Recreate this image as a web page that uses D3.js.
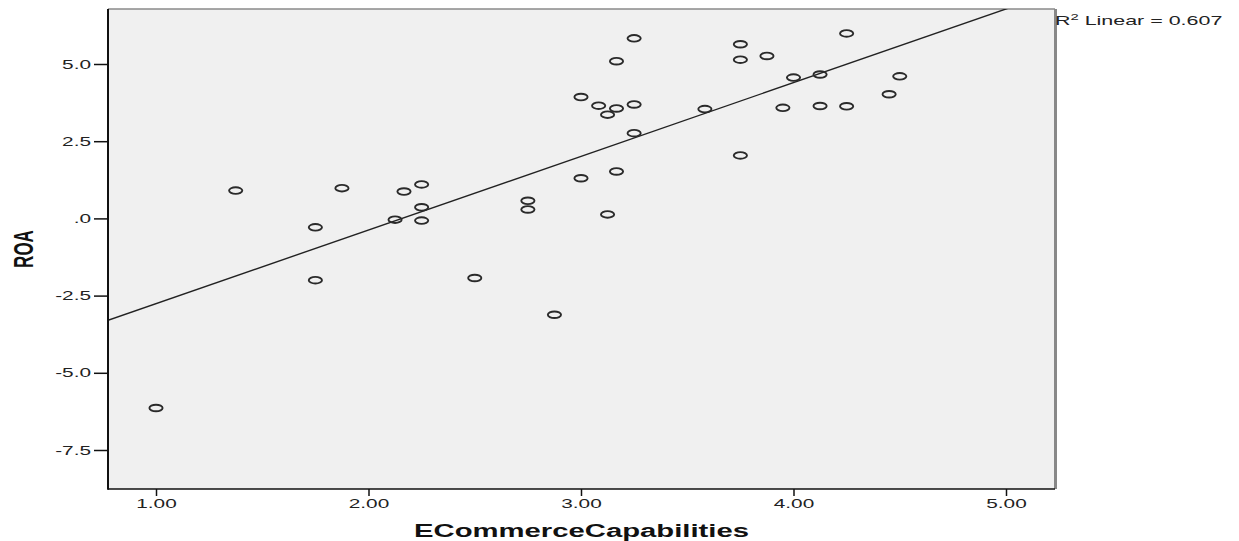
<!DOCTYPE html>
<html><head><meta charset="utf-8">
<script src="https://cdn.jsdelivr.net/npm/d3@7"></script>
<style>body{margin:0;background:#fff}svg{display:block;font-family:"Liberation Sans",Arial,sans-serif}</style>
</head><body><svg id="c" width="1239" height="541"></svg>
<script>
// ---- data ----
const ecommerce = [1.0, 1.375, 1.75, 1.75, 1.875, 2.125, 2.167, 2.25, 2.25, 2.25, 2.5, 2.75, 2.75, 2.875,
  3.0, 3.0, 3.083, 3.125, 3.125, 3.167, 3.167, 3.167, 3.25, 3.25, 3.25, 3.583, 3.75, 3.75, 3.75,
  3.875, 3.95, 4.0, 4.125, 4.125, 4.25, 4.25, 4.45, 4.5];
const roa = [-6.14, 0.90, -0.29, -2.00, 0.98, -0.04, 0.87, 1.10, 0.36, -0.07, -1.93, 0.57, 0.29, -3.12,
  3.93, 1.30, 3.65, 3.36, 0.13, 5.09, 3.56, 1.52, 5.83, 3.69, 2.76, 3.54, 5.64, 5.14, 2.04,
  5.26, 3.58, 4.56, 4.66, 3.64, 5.99, 3.63, 4.02, 4.60];
const xTicks = [1, 2, 3, 4, 5];
const yTicks = [5, 2.5, 0, -2.5, -5, -7.5];
const xTitle = "ECommerceCapabilities";
const yTitle = "ROA";
const fitR2 = "0.607";

// ---- layout ----
const L = 108, R = 1055, T = 9, B = 489;
const STRETCH = 1.6;
const svg = d3.select("#c");
const x = d3.scaleLinear().domain([0.7741, 5.2306]).range([L, R]);
const y = d3.scaleLinear().domain([-8.763, 6.781]).range([B, T]);

svg.append("rect").attr("x", L).attr("y", T).attr("width", R - L).attr("height", B - T).attr("fill", "#f0f0f0");
svg.append("clipPath").attr("id", "clip").append("rect")
  .attr("x", L).attr("y", T).attr("width", R - L).attr("height", B - T);

// frame: top and right gray
svg.append("line").attr("x1", L).attr("x2", R).attr("y1", T).attr("y2", T).attr("stroke", "#8a8a8a").attr("stroke-width", 1.5);
svg.append("line").attr("x1", R + 0.5).attr("x2", R + 0.5).attr("y1", T).attr("y2", B).attr("stroke", "#888").attr("stroke-width", 3);

// regression line computed from data
const mx = d3.mean(ecommerce), my = d3.mean(roa);
let sxy = 0, sxx = 0;
ecommerce.forEach((v, i) => { sxy += (v - mx) * (roa[i] - my); sxx += (v - mx) * (v - mx); });
const slope = sxy / sxx, icpt = my - slope * mx;
const xd = x.domain();
svg.append("line").attr("clip-path", "url(#clip)")
  .attr("x1", x(xd[0])).attr("y1", y(icpt + slope * xd[0]))
  .attr("x2", x(xd[1])).attr("y2", y(icpt + slope * xd[1]))
  .attr("stroke", "#222").attr("stroke-width", 1.4);

// points
svg.append("g").selectAll("ellipse").data(ecommerce).join("ellipse")
  .attr("cx", d => x(d)).attr("cy", (d, i) => y(roa[i]))
  .attr("rx", 6.6).attr("ry", 3.3)
  .attr("fill", "none").attr("stroke", "#2a2a2a").attr("stroke-width", 1.9);

const fmtY = v => { let s = Math.abs(v).toFixed(1); if (s.startsWith("0")) s = s.slice(1); return (v < 0 ? "-" : "") + s; };
const fmtX = v => v.toFixed(2);

const stretchText = sel => sel.each(function () {
  const w = this.getComputedTextLength();
  this.setAttribute("textLength", w * STRETCH);
  this.setAttribute("lengthAdjust", "spacingAndGlyphs");
});

// axes
const gy = svg.append("g").attr("transform", `translate(${L},0)`)
  .call(d3.axisLeft(y).tickValues(yTicks).tickFormat(fmtY).tickSize(14).tickPadding(3));
gy.select(".domain").remove();
gy.selectAll("line").attr("stroke", "#111").attr("stroke-width", 1.5);
gy.selectAll("text").attr("font-size", 13).attr("fill", "#222").attr("font-family", "Liberation Sans, Arial, sans-serif").call(stretchText);

const gx = svg.append("g").attr("transform", `translate(0,${B})`)
  .call(d3.axisBottom(x).tickValues(xTicks).tickFormat(fmtX).tickSize(7).tickPadding(3));
gx.select(".domain").remove();
gx.selectAll("line").attr("stroke", "#111").attr("stroke-width", 1.5);
gx.selectAll("text").attr("font-size", 13).attr("fill", "#222").attr("font-family", "Liberation Sans, Arial, sans-serif").call(stretchText);

// axis lines (left & bottom, black)
svg.append("line").attr("x1", L).attr("x2", L).attr("y1", T).attr("y2", B + 0.75).attr("stroke", "#111").attr("stroke-width", 2);
svg.append("line").attr("x1", L).attr("x2", R).attr("y1", B).attr("y2", B).attr("stroke", "#111").attr("stroke-width", 1.5);

// titles
svg.append("text").attr("x", (L + R) / 2).attr("y", 537).attr("text-anchor", "middle")
  .attr("font-size", 18).attr("font-weight", "bold").attr("fill", "#111")
  .attr("textLength", 335).attr("lengthAdjust", "spacingAndGlyphs").text(xTitle);

svg.append("text").attr("transform", `translate(33,${(T + B) / 2}) scale(${STRETCH},1) rotate(-90)`)
  .attr("text-anchor", "middle").attr("font-size", 17).attr("font-weight", "bold").attr("fill", "#111")
  .text(yTitle);

// R² label
const r2 = svg.append("text").attr("transform", `translate(${R},25) scale(1.65,1)`)
  .attr("font-size", 13).attr("fill", "#222");
r2.append("tspan").text("R");
r2.append("tspan").attr("font-size", 9).attr("dy", -5).text("2");
r2.append("tspan").attr("dy", 5).text(" Linear = " + fitR2);
</script>
</body></html>
